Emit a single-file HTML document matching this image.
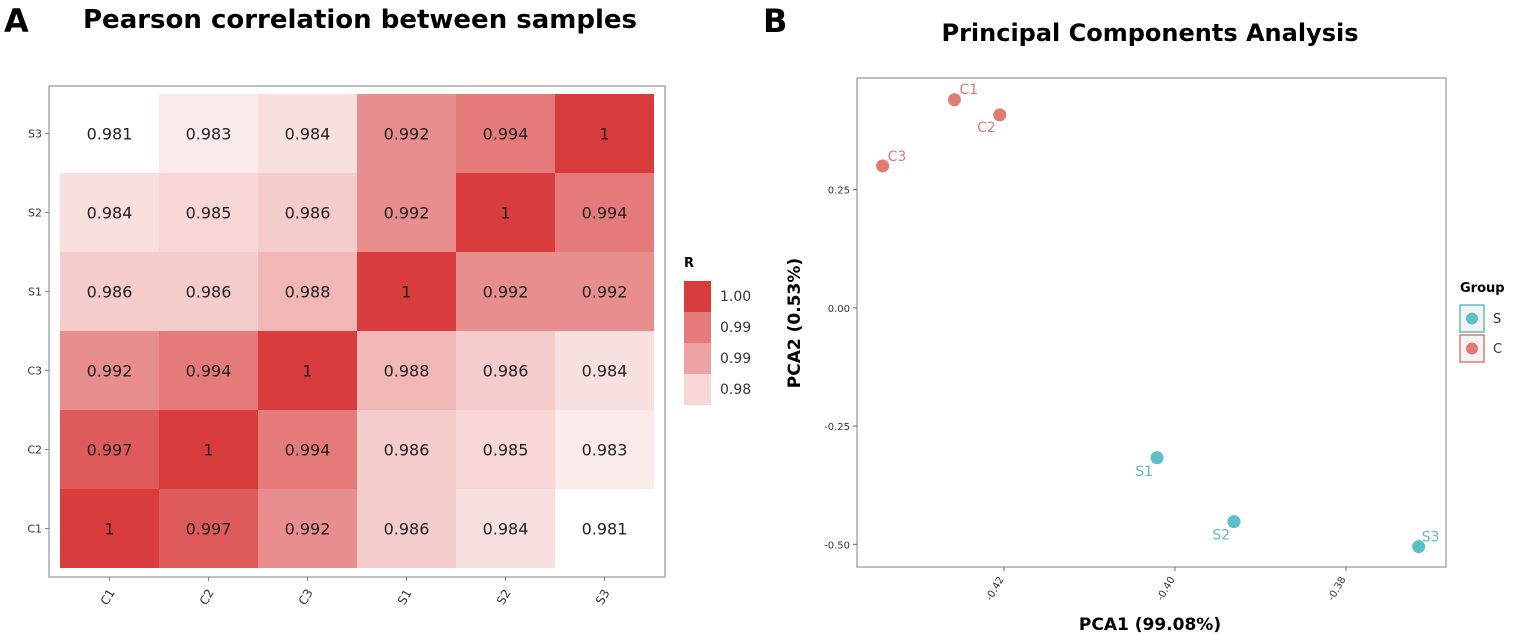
<!DOCTYPE html>
<html><head><meta charset="utf-8"><style>
body{margin:0;background:#fff;}
svg{display:block;font-family:"DejaVu Sans","Liberation Sans",sans-serif;}
</style></head><body>
<svg id="fig" width="1516" height="636" viewBox="0 0 1516 636">
<text x="4" y="32" font-size="32" font-weight="bold">A</text>
<text x="360" y="28" font-size="26" font-weight="bold" text-anchor="middle">Pearson correlation between samples</text>
<text x="763" y="32" font-size="32" font-weight="bold">B</text>
<text x="1150" y="41" font-size="24" font-weight="bold" text-anchor="middle">Principal Components Analysis</text>
<g id="hm"></g>
<g id="pca"></g>
</svg>
<script>
const samples = ["C1","C2","C3","S1","S2","S3"];
const corr = [
 [1,0.997,0.992,0.986,0.984,0.981],
 [0.997,1,0.994,0.986,0.985,0.983],
 [0.992,0.994,1,0.988,0.986,0.984],
 [0.986,0.986,0.988,1,0.992,0.992],
 [0.984,0.985,0.986,0.992,1,0.994],
 [0.981,0.983,0.984,0.992,0.994,1]
];
const legendVals = ["1.00","0.99","0.99","0.98"];
const pcaNames = ["C1","C2","C3","S1","S2","S3"];
const pcaGroup = ["C","C","C","S","S","S"];
const pca1 = [-0.4258,-0.4205,-0.4342,-0.4021,-0.3931,-0.3715];
const pca2 = [0.440,0.408,0.300,-0.317,-0.452,-0.505];
const xTicks = [-0.42,-0.40,-0.38];
const yTicks = [0.25,0.00,-0.25,-0.50];

const NS="http://www.w3.org/2000/svg";
function mk(tag,attrs,parent){const e=document.createElementNS(NS,tag);for(const k in attrs)e.setAttribute(k,attrs[k]);parent.appendChild(e);return e;}

const hm=document.getElementById('hm');
const HL=60,HT=94,CW=99,CH=79,vmin=0.981,vmax=1;
function col(v){let t=(v-vmin)/(vmax-vmin);t=Math.max(0,Math.min(1,t));
 const r=Math.round(255+(217-255)*t),g=Math.round(255+(60-255)*t),b=Math.round(255+(60-255)*t);return `rgb(${r},${g},${b})`;}
const fr=mk('rect',{x:49,y:86,width:616,height:491,fill:'none',stroke:'#aaa','stroke-width':1.5},hm);

for(let i=0;i<6;i++)for(let j=0;j<6;j++){
 const v=corr[i][j];
 const x=HL+j*CW, y=HT+(5-i)*CH;
 const r=mk('rect',{x:x,y:y,width:CW,height:CH,fill:col(v)},hm);
 
 const t=mk('text',{x:x+CW/2,y:y+CH/2+6,'font-size':16,'text-anchor':'middle',fill:'#222'},hm);
 t.textContent=v===1?'1':v.toFixed(3);
 
}
samples.forEach((s,k)=>{
 const cx=HL+k*CW+CW/2;
 mk('line',{x1:cx,x2:cx,y1:577,y2:581,stroke:'#888'},hm);
 const t=mk('text',{x:cx,y:600,'font-size':12,'text-anchor':'middle',fill:'#333',transform:`rotate(-60 ${cx} 598)`},hm);
 t.textContent=s;
 const cy=HT+(5-k)*CH+CH/2;
 mk('line',{x1:45,x2:49,y1:cy,y2:cy,stroke:'#888'},hm);
 const u=mk('text',{x:42,y:cy+4,'font-size':11,'text-anchor':'end',fill:'#333'},hm);
 u.textContent=s;
});
const lt=mk('text',{x:684,y:267,'font-size':13,'font-weight':'bold'},hm);lt.textContent='R';

const lcols=[1,0.994,0.99,0.985];
legendVals.forEach((v,k)=>{
 const y=281+k*31;
 const r=mk('rect',{x:684,y:y,width:27,height:31,fill:col(lcols[k])},hm);
 
 const t=mk('text',{x:720,y:y+20,'font-size':14,fill:'#333'},hm);t.textContent=v;
 
});

const pg=document.getElementById('pca');
const PL=857,PR=1446,PT=78,PB=567,xmin=-0.4372,xmax=-0.3683,ymin=-0.548,ymax=0.486;
const sx=v=>PL+(v-xmin)/(xmax-xmin)*(PR-PL);
const sy=v=>PB-(v-ymin)/(ymax-ymin)*(PB-PT);
const pf=mk('rect',{x:PL,y:PT,width:PR-PL,height:PB-PT,fill:'none',stroke:'#aaa','stroke-width':1.5},pg);

xTicks.forEach(v=>{const x=sx(v);
 mk('line',{x1:x,x2:x,y1:PB,y2:PB+4,stroke:'#666'},pg);
 const t=mk('text',{x:x,y:PB+12,'font-size':10,'text-anchor':'end',fill:'#333',transform:`rotate(-60 ${x} ${PB+12})`},pg);
 t.textContent=v.toFixed(2);});
yTicks.forEach(v=>{const y=sy(v);
 mk('line',{x1:PL-4,x2:PL,y1:y,y2:y,stroke:'#666'},pg);
 const t=mk('text',{x:PL-7,y:y+4,'font-size':10,'text-anchor':'end',fill:'#333'},pg);
 t.textContent=v.toFixed(2);});
const xt=mk('text',{x:1150,y:630,'font-size':17,'font-weight':'bold','text-anchor':'middle'},pg);xt.textContent='PCA1 (99.08%)';

const yt=mk('text',{x:800,y:323,'font-size':17,'font-weight':'bold','text-anchor':'middle',transform:'rotate(-90 800 323)'},pg);yt.textContent='PCA2 (0.53%)';

const gc={C:'#e07b73',S:'#5bbfc6'};
const off={C1:[5,-6,'start'],C2:[-4,17,'end'],C3:[5,-5,'start'],S1:[-4,18,'end'],S2:[-4,18,'end'],S3:[3,-5,'start']};
pcaNames.forEach((n,k)=>{
 const x=sx(pca1[k]),y=sy(pca2[k]),c=gc[pcaGroup[k]];
 const p=mk('circle',{cx:x,cy:y,r:6.5,fill:c},pg);
 
 const o=off[n];
 const t=mk('text',{x:x+o[0],y:y+o[1],'font-size':14,fill:c,'text-anchor':o[2]},pg);t.textContent=n;
 
});
const gt=mk('text',{x:1460,y:292,'font-size':13,'font-weight':'bold'},pg);gt.textContent='Group';

[['S',305],['C',335]].forEach(([g,y])=>{
 const r=mk('rect',{x:1460,y:y,width:24,height:27,fill:'#f3f3f3',stroke:gc[g],'stroke-width':1.5},pg);
 
 mk('circle',{cx:1472,cy:y+13.5,r:6,fill:gc[g]},pg);
 const t=mk('text',{x:1493,y:y+18,'font-size':13,fill:'#333'},pg);t.textContent=g;
 
});
</script>
</body></html>
